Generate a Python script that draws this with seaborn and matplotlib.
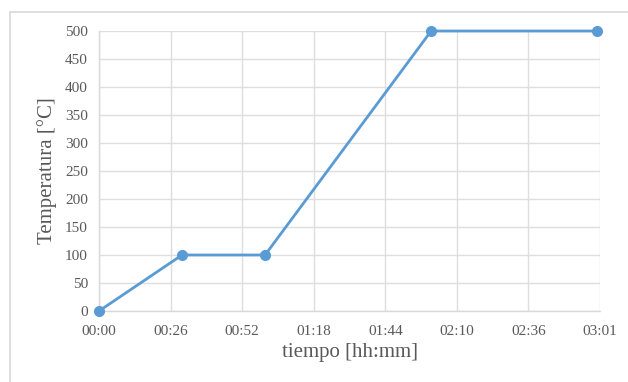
import matplotlib
matplotlib.use("Agg")
import matplotlib.pyplot as plt
import seaborn as sns
import pandas as pd
from matplotlib.lines import Line2D

# Heating profile: time in minutes, temperature in °C
tiempo_min = [0, 30, 60, 120, 180]
temperatura = [0, 100, 100, 500, 500]

x_ticks_min = [0, 181 / 7, 2 * 181 / 7, 3 * 181 / 7, 4 * 181 / 7, 5 * 181 / 7, 6 * 181 / 7, 181]
x_tick_labels = ["00:00", "00:26", "00:52", "01:18", "01:44", "02:10", "02:36", "03:01"]
y_ticks = [0, 50, 100, 150, 200, 250, 300, 350, 400, 450, 500]

df = pd.DataFrame({"tiempo": tiempo_min, "temperatura": temperatura})

sns.set_theme(style="white")
plt.rcParams["font.family"] = ["Liberation Serif", "DejaVu Serif"]

text_color = "#595959"
grid_color = "#DEDEDE"
line_color = "#5B9BD5"

fig = plt.figure(figsize=(6.28, 3.82), dpi=100)
ax = fig.add_axes([99 / 628, 1 - 311 / 382, (600 - 99) / 628, (311 - 31) / 382])

sns.lineplot(data=df, x="tiempo", y="temperatura", ax=ax, color=line_color,
             linewidth=2, marker="o", markersize=8, markeredgewidth=0, clip_on=False, zorder=3)

ax.set_xlim(0, 181)
ax.set_ylim(0, 500)
ax.set_xticks(x_ticks_min)
ax.set_xticklabels(x_tick_labels)
ax.set_yticks(y_ticks)
ax.grid(True, color=grid_color, linewidth=1)
ax.set_axisbelow(True)

for side in ["top", "right"]:
    ax.spines[side].set_visible(False)
for side in ["left", "bottom"]:
    ax.spines[side].set_color("#D9D9D9")
    ax.spines[side].set_linewidth(1)

ax.tick_params(axis="both", length=0, labelsize=11, colors=text_color)
ax.tick_params(axis="x", pad=10)
ax.tick_params(axis="y", pad=8)
ax.set_xlabel("tiempo [hh:mm]", fontsize=15, color=text_color, labelpad=4)
ax.set_ylabel("Temperatura [°C]", fontsize=15, color=text_color, labelpad=6)

# Chart frame (left and top edges)
fig.add_artist(Line2D([10 / 628, 10 / 628], [0, 1 - 12 / 382], transform=fig.transFigure,
                      color="#D9D9D9", linewidth=1.2))
fig.add_artist(Line2D([10 / 628, 1], [1 - 12 / 382, 1 - 12 / 382], transform=fig.transFigure,
                      color="#D9D9D9", linewidth=1.2))

fig.savefig("out.png", dpi=100, facecolor="white")
